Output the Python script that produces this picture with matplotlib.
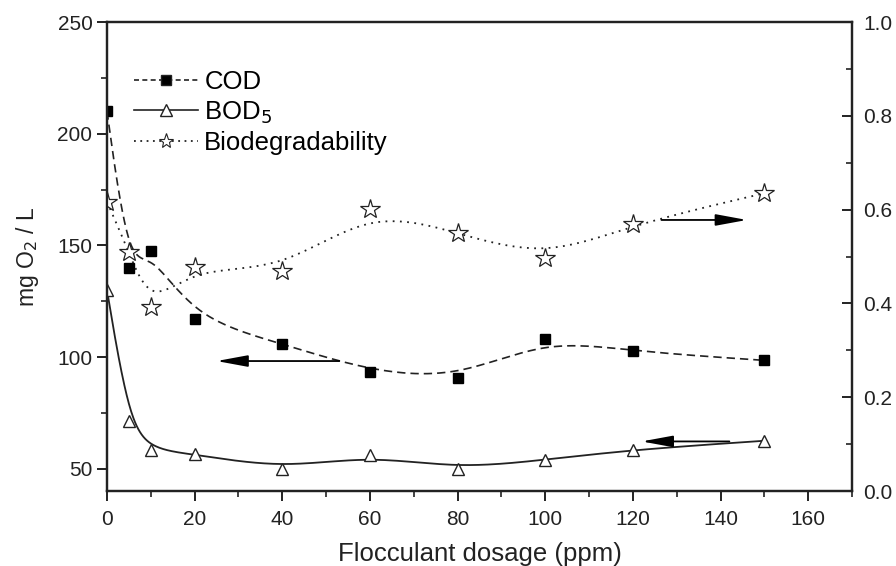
import numpy as np
import matplotlib as mpl
mpl.use('Agg')
import matplotlib.pyplot as plt
from matplotlib.ticker import MultipleLocator

plt.rcParams['font.family'] = ['Liberation Sans', 'DejaVu Sans']

dosage = [0, 5, 10, 20, 40, 60, 80, 100, 120, 150]
cod = [210, 140, 147.5, 117, 106, 93.5, 90.5, 108, 102.5, 98.5]
bod5 = [130, 71.5, 58.5, 56.5, 50, 56, 50, 54, 58.5, 62.5]
biodeg = [0.617, 0.51, 0.392, 0.478, 0.469, 0.601, 0.55, 0.497, 0.569, 0.635]


def bspline(xs, ys, n=30):
    # uniform cubic B-spline, data points as control points (Origin style)
    px = np.r_[xs[0], xs[0], xs, xs[-1], xs[-1]].astype(float)
    py = np.r_[ys[0], ys[0], ys, ys[-1], ys[-1]].astype(float)
    t = np.linspace(0, 1, n)
    b0 = (1 - t) ** 3 / 6
    b1 = (3 * t ** 3 - 6 * t ** 2 + 4) / 6
    b2 = (-3 * t ** 3 + 3 * t ** 2 + 3 * t + 1) / 6
    b3 = t ** 3 / 6
    outx, outy = [], []
    for i in range(len(px) - 3):
        outx.append(b0 * px[i] + b1 * px[i + 1] + b2 * px[i + 2] + b3 * px[i + 3])
        outy.append(b0 * py[i] + b1 * py[i + 1] + b2 * py[i + 2] + b3 * py[i + 3])
    return np.concatenate(outx), np.concatenate(outy)


fig = plt.figure(figsize=(8.96, 5.66), dpi=100)
ax = fig.add_axes([0.1194, 0.1325, 0.8316, 0.8285])
ax2 = ax.twinx()

col = '#222222'

sx, sy = bspline(dosage, cod)
ax.plot(sx, sy, color=col, lw=1.2, dashes=(5, 3))
sx, sy = bspline(dosage, bod5)
ax.plot(sx, sy, color=col, lw=1.3)
sx, sy = bspline(dosage, biodeg)
ax2.plot(sx, sy, color=col, lw=1.3, dashes=(1, 3))

ax.plot(dosage, cod, ls='none', marker='s', ms=7, color='black')
ax.plot(dosage, bod5, ls='none', marker='^', ms=9, mfc='white', mec=col, mew=1.0)
ax2.plot(dosage, biodeg, ls='none', marker='*', ms=15, mfc='white', mec=col, mew=0.9)

# legend proxies
h1, = ax.plot([], [], color=col, lw=1.2, dashes=(3, 2), marker='s', ms=7, mfc='black')
h2, = ax.plot([], [], color=col, lw=1.2, marker='^', ms=8, mfc='white', mec=col)
h3, = ax.plot([], [], color=col, lw=1.3, dashes=(1, 2.5), marker='*', ms=11, mfc='white', mec=col, mew=0.8)
ax.legend([h1, h2, h3], ['COD', 'BOD$_5$', 'Biodegradability'], loc='upper left',
          bbox_to_anchor=(0.022, 0.92), frameon=False, fontsize=18.5, handlelength=2.5,
          handletextpad=0.25, labelspacing=0.2, borderaxespad=0)

arrow = dict(arrowstyle='-|>,head_length=1.9,head_width=0.35', color='black', lw=1.3,
             shrinkA=0, shrinkB=0)
ax.annotate('', xy=(25, 98.2), xytext=(53, 98.2), arrowprops=arrow)
ax.annotate('', xy=(122, 62.2), xytext=(142, 62.2), arrowprops=arrow)
ax2.annotate('', xy=(146, 0.578), xytext=(126.5, 0.578), arrowprops=arrow)

ax.set_xlim(0, 170)
ax.set_ylim(40, 250)
ax2.set_ylim(0, 1.0)

ax.xaxis.set_major_locator(MultipleLocator(20))
ax.xaxis.set_minor_locator(MultipleLocator(10))
ax.yaxis.set_major_locator(MultipleLocator(50))
ax.yaxis.set_minor_locator(MultipleLocator(25))
ax2.yaxis.set_major_locator(MultipleLocator(0.2))
ax2.yaxis.set_minor_locator(MultipleLocator(0.1))
ax2.set_yticks([0.0, 0.2, 0.4, 0.6, 0.8, 1.0])
ax2.set_yticklabels(['0.0', '0.2', '0.4', '0.6', '0.8', '1.0'])

for a in (ax, ax2):
    for s in a.spines.values():
        s.set_linewidth(1.6)
        s.set_color(col)
ax.tick_params(axis='both', which='major', direction='out', length=7, width=1.4,
               labelsize=15, colors=col, top=False)
ax.tick_params(axis='x', which='major', pad=7)
ax.tick_params(axis='both', which='minor', direction='out', length=4, width=1.2,
               colors=col, top=False)
ax2.tick_params(axis='y', which='major', direction='in', length=7, width=1.4,
                labelsize=15, colors=col, pad=8)
ax2.tick_params(axis='y', which='minor', direction='in', length=4, width=1.2, colors=col)

ax.set_xlabel('Flocculant dosage (ppm)', fontsize=18.5, color=col, labelpad=9)
ax.set_ylabel('mg O$_2$ / L', fontsize=16.5, color=col, labelpad=12)

fig.savefig('out.png', dpi=100)
